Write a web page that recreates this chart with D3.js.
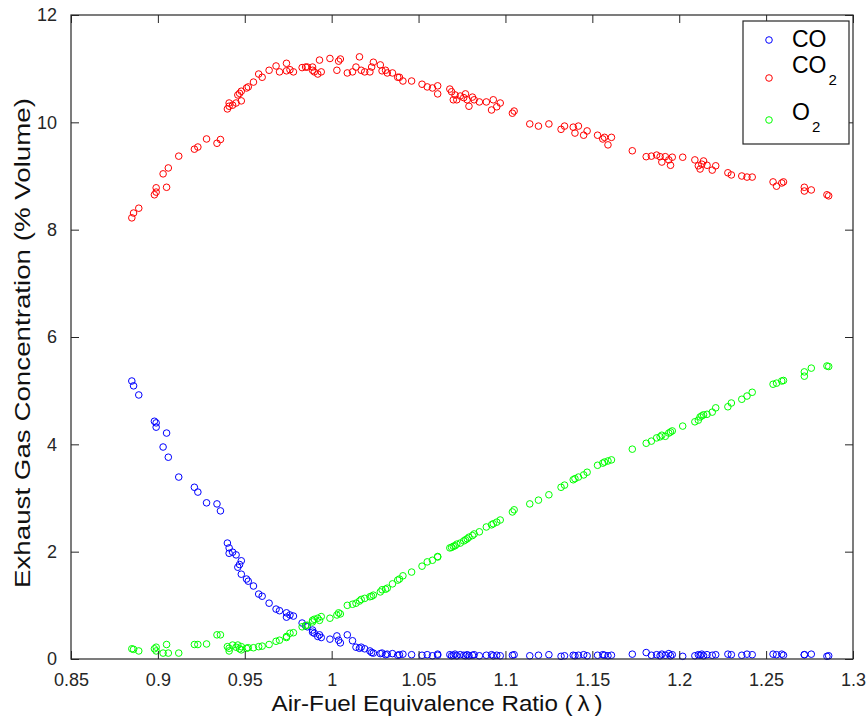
<!DOCTYPE html>
<html>
<head>
<meta charset="utf-8">
<script src="https://cdnjs.cloudflare.com/ajax/libs/d3/7.8.5/d3.min.js"></script>
<style>
body { margin: 0; background: #fff; }
svg { font-family: "Liberation Sans", Arial, sans-serif; }
</style>
</head>
<body>
<script>

// air-fuel equivalence ratio of every sample
var lambda = [0.885,0.886,0.889,0.898,0.899,0.899,0.903,0.905,0.906,0.912,0.921,0.923,0.928,0.934,0.936,
  0.940,0.941,0.941,0.943,0.945,0.946,0.947,0.948,0.948,0.951,0.952,0.955,0.958,0.960,0.964,0.968,0.970,
  0.974,0.974,0.976,0.978,0.983,0.985,0.986,0.989,0.989,0.990,0.992,0.993,0.994,0.999,1.003,1.004,1.005,
  1.009,1.012,1.014,1.016,1.017,1.019,1.022,1.023,1.024,1.028,1.029,1.031,1.032,1.035,1.038,1.039,1.041,
  1.046,1.052,1.055,1.058,1.061,1.061,1.068,1.069,1.070,1.071,1.072,1.074,1.076,1.077,1.078,1.079,1.081,
  1.082,1.085,1.089,1.092,1.093,1.095,1.097,1.104,1.105,1.114,1.119,1.125,1.132,1.134,1.139,1.140,1.142,
  1.145,1.147,1.153,1.156,1.157,1.159,1.161,1.173,1.181,1.184,1.187,1.189,1.190,1.192,1.194,1.195,1.196,
  1.202,1.209,1.211,1.212,1.213,1.214,1.216,1.219,1.221,1.228,1.230,1.236,1.239,1.242,1.254,1.256,1.259,
  1.260,1.272,1.272,1.276,1.285,1.286];

var co = [5.18,5.09,4.92,4.43,4.40,4.32,3.95,4.21,3.76,3.39,3.20,3.11,2.91,2.89,2.76,
  2.16,2.07,1.97,1.99,1.94,1.71,1.76,1.83,1.58,1.49,1.45,1.36,1.21,1.17,1.04,0.93,0.90,
  0.86,0.78,0.82,0.80,0.67,0.62,0.60,0.54,0.50,0.48,0.42,0.45,0.40,0.37,0.43,0.35,0.30,
  0.45,0.34,0.22,0.20,0.22,0.19,0.15,0.12,0.11,0.10,0.11,0.08,0.09,0.10,0.07,0.08,0.09,
  0.08,0.07,0.08,0.06,0.07,0.09,0.08,0.06,0.07,0.09,0.06,0.08,0.07,0.06,0.08,0.06,0.07,
  0.08,0.06,0.07,0.08,0.06,0.07,0.06,0.07,0.08,0.06,0.07,0.08,0.05,0.06,0.07,0.06,0.07,
  0.08,0.06,0.07,0.08,0.07,0.06,0.07,0.09,0.12,0.07,0.08,0.06,0.09,0.07,0.10,0.06,0.08,
  0.05,0.06,0.08,0.07,0.09,0.06,0.08,0.07,0.08,0.09,0.08,0.07,0.09,0.08,0.09,0.08,0.09,
  0.07,0.08,0.08,0.09,0.05,0.06];

var co2 = [8.22,8.31,8.40,8.65,8.70,8.78,9.04,8.79,9.15,9.37,9.50,9.54,9.69,9.61,9.68,
  10.25,10.36,10.30,10.32,10.36,10.51,10.54,10.40,10.58,10.64,10.66,10.75,10.90,10.84,10.97,11.05,10.94,
  11.10,10.96,10.98,10.94,11.02,11.03,11.03,11.03,10.97,10.94,10.90,11.16,10.94,11.19,10.97,11.14,11.18,
  10.92,10.94,11.03,11.22,10.97,10.94,10.94,11.03,11.12,11.07,10.96,10.97,10.92,10.92,10.84,10.84,10.77,
  10.77,10.71,10.66,10.64,10.68,10.53,10.62,10.57,10.42,10.51,10.42,10.49,10.46,10.53,10.42,10.30,10.47,
  10.42,10.38,10.38,10.23,10.42,10.29,10.36,10.17,10.21,9.97,9.93,9.97,9.87,9.93,9.91,9.80,9.93,
  9.76,9.84,9.76,9.69,9.72,9.58,9.72,9.47,9.36,9.37,9.39,9.36,9.26,9.36,9.30,9.20,9.35,
  9.35,9.30,9.19,9.13,9.22,9.28,9.20,9.11,9.19,9.06,9.02,9.00,8.98,8.98,8.89,8.81,8.87,
  8.89,8.79,8.72,8.74,8.65,8.63];

var o2 = [0.19,0.18,0.15,0.19,0.22,0.15,0.11,0.27,0.11,0.11,0.27,0.27,0.28,0.45,0.45,
  0.23,0.15,0.20,0.26,0.22,0.26,0.19,0.23,0.17,0.20,0.21,0.21,0.23,0.24,0.27,0.33,0.35,
  0.40,0.42,0.48,0.49,0.60,0.62,0.63,0.69,0.72,0.74,0.76,0.72,0.79,0.76,0.82,0.86,0.84,
  1.00,1.02,1.04,1.08,1.11,1.13,1.16,1.17,1.19,1.25,1.29,1.30,1.32,1.40,1.47,1.49,1.55,
  1.62,1.73,1.81,1.84,1.90,1.91,2.07,2.08,2.10,2.11,2.14,2.16,2.20,2.22,2.24,2.27,2.30,
  2.33,2.37,2.46,2.50,2.52,2.55,2.59,2.74,2.78,2.89,2.96,3.06,3.20,3.24,3.34,3.36,3.39,
  3.43,3.48,3.61,3.65,3.67,3.69,3.71,3.91,4.02,4.06,4.12,4.14,4.17,4.15,4.21,4.23,4.25,
  4.34,4.42,4.45,4.51,4.53,4.55,4.56,4.60,4.68,4.70,4.77,4.84,4.90,4.97,5.12,5.14,5.18,
  5.19,5.27,5.35,5.42,5.46,5.45];

var xTicks = [0.85, 0.9, 0.95, 1, 1.05, 1.1, 1.15, 1.2, 1.25, 1.3];
var yTicks = [0, 2, 4, 6, 8, 10, 12];

var series = [
  {name: "CO", sub: "", values: co, color: "#0000ff"},
  {name: "CO", sub: "2", values: co2, color: "#ff0000"},
  {name: "O", sub: "2", values: o2, color: "#00ff00"}
];

var W = 868, H = 717;
var margin = {left: 71, right: 15, top: 15, bottom: 58};
var iw = W - margin.left - margin.right,
    ih = H - margin.top - margin.bottom;

var x = d3.scaleLinear().domain([0.85, 1.3]).range([0, iw]);
var y = d3.scaleLinear().domain([0, 12]).range([ih, 0]);

var svg = d3.select("body").append("svg")
  .attr("width", W).attr("height", H);

var g = svg.append("g")
  .attr("transform", "translate(" + margin.left + "," + margin.top + ")");

// points, drawn series by series like matlab does
series.forEach(function(s) {
  g.append("g").selectAll("circle")
    .data(lambda.map(function(l, i) { return [l, s.values[i]]; }))
    .enter().append("circle")
    .attr("cx", function(d) { return x(d[0]); })
    .attr("cy", function(d) { return y(d[1]); })
    .attr("r", 3.3)
    .attr("fill", "none")
    .attr("stroke", s.color)
    .attr("stroke-width", 1);
});

// axes with ticks pointing inwards, on all four sides
function styleAxis(sel, labels) {
  sel.select(".domain").remove();
  sel.selectAll("line").attr("stroke", "#262626");
  sel.selectAll("text")
    .attr("fill", "#262626")
    .style("font-size", "18px");
  if (!labels) sel.selectAll("text").remove();
}

g.append("g")
  .attr("transform", "translate(0," + ih + ")")
  .call(d3.axisBottom(x).tickValues(xTicks).tickSizeInner(-8).tickSizeOuter(0)
    .tickPadding(14).tickFormat(d3.format("")))
  .call(styleAxis, true);
g.append("g")
  .call(d3.axisTop(x).tickValues(xTicks).tickSizeInner(-8).tickSizeOuter(0))
  .call(styleAxis, false);
g.append("g")
  .call(d3.axisLeft(y).tickValues(yTicks).tickSizeInner(-8).tickSizeOuter(0)
    .tickPadding(14))
  .call(styleAxis, true);
g.append("g")
  .attr("transform", "translate(" + iw + ",0)")
  .call(d3.axisRight(y).tickValues(yTicks).tickSizeInner(-8).tickSizeOuter(0))
  .call(styleAxis, false);

g.append("rect")
  .attr("width", iw).attr("height", ih)
  .attr("fill", "none")
  .attr("stroke", "#262626")
  .attr("stroke-width", 1.2);

// axis titles
svg.append("text")
  .attr("x", 437)
  .attr("y", 711)
  .attr("text-anchor", "middle")
  .attr("textLength", 331)
  .attr("lengthAdjust", "spacingAndGlyphs")
  .style("font-size", "22px")
  .attr("fill", "#111")
  .text("Air-Fuel Equivalence Ratio (\u2009\u03bb\u2009)");

svg.append("text")
  .attr("transform", "translate(30,343) rotate(-90)")
  .attr("text-anchor", "middle")
  .attr("textLength", 490)
  .attr("lengthAdjust", "spacingAndGlyphs")
  .style("font-size", "22px")
  .attr("fill", "#111")
  .text("Exhaust Gas Concentration (% Volume)");

// legend
var lg = svg.append("g").attr("transform", "translate(743,21)");
lg.append("rect")
  .attr("width", 106).attr("height", 123)
  .attr("fill", "#fff")
  .attr("stroke", "#262626")
  .attr("stroke-width", 1.2);

var rows = [{my: 19, base: 26}, {my: 57, base: 52}, {my: 99, base: 99}];
series.forEach(function(s, i) {
  lg.append("circle")
    .attr("cx", 26).attr("cy", rows[i].my)
    .attr("r", 3.3)
    .attr("fill", "none")
    .attr("stroke", s.color);
  var t = lg.append("text")
    .attr("x", 49).attr("y", rows[i].base)
    .style("font-size", "23px")
    .attr("fill", "#000")
    .text(s.name);
  if (s.sub) {
    t.append("tspan")
      .attr("dx", 2).attr("dy", 12)
      .style("font-size", "15px")
      .text(s.sub);
  }
});

</script>
</body>
</html>
